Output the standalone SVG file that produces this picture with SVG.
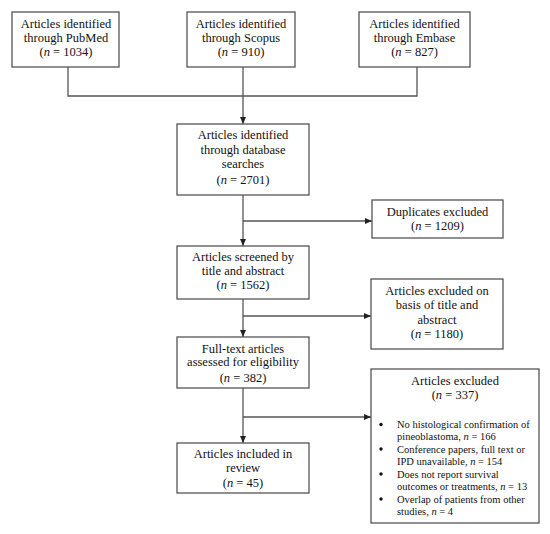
<svg xmlns="http://www.w3.org/2000/svg" width="550" height="534" viewBox="0 0 550 534">
<style>
.box{fill:#fff;stroke:#555;stroke-width:1.3}
.t{font-family:"Liberation Serif","Times New Roman",serif;font-size:12.5px;fill:#111;text-anchor:middle}
.s{font-family:"Liberation Serif","Times New Roman",serif;font-size:10.5px;fill:#111}
.b{fill:#111}
.c{fill:none;stroke:#555;stroke-width:1.3}
</style>
<defs>
<marker id="ah" markerWidth="8" markerHeight="8" refX="7" refY="4" orient="auto" markerUnits="userSpaceOnUse">
<path d="M0,1 L7,4 L0,7 Z" fill="#222"/>
</marker>
</defs>
<rect width="550" height="534" fill="#fff"/>
<g id="connectors">
<path class="c" d="M68,67 V96 H417 V67"/>
<path class="c" d="M243,67 V124" marker-end="url(#ah)"/>
<path class="c" d="M243,195 V246" marker-end="url(#ah)"/>
<path class="c" d="M243,221 H372" marker-end="url(#ah)"/>
<path class="c" d="M243,299 V337" marker-end="url(#ah)"/>
<path class="c" d="M243,316 H371" marker-end="url(#ah)"/>
<path class="c" d="M243,388 V443" marker-end="url(#ah)"/>
<path class="c" d="M243,417 H371" marker-end="url(#ah)"/>
</g>
<g id="pubmed">
<rect class="box" x="12" y="12" width="107" height="55"/>
<text class="t" x="66" y="28">Articles identified</text>
<text class="t" x="66" y="42">through PubMed</text>
<text class="t" x="66" y="56">(<tspan font-style="italic">n</tspan> = 1034)</text>
</g>
<g id="scopus">
<rect class="box" x="187" y="12" width="108" height="55"/>
<text class="t" x="241" y="28">Articles identified</text>
<text class="t" x="241" y="42">through Scopus</text>
<text class="t" x="241" y="56">(<tspan font-style="italic">n</tspan> = 910)</text>
</g>
<g id="embase">
<rect class="box" x="359" y="12" width="111" height="55"/>
<text class="t" x="414.5" y="28">Articles identified</text>
<text class="t" x="414.5" y="42">through Embase</text>
<text class="t" x="414.5" y="56">(<tspan font-style="italic">n</tspan> = 827)</text>
</g>
<g id="database">
<rect class="box" x="177" y="124" width="132" height="71"/>
<text class="t" x="243" y="139">Articles identified</text>
<text class="t" x="243" y="153.5">through database</text>
<text class="t" x="243" y="168">searches</text>
<text class="t" x="243" y="184">(<tspan font-style="italic">n</tspan> = 2701)</text>
</g>
<g id="duplicates">
<rect class="box" x="372" y="200" width="131" height="38"/>
<text class="t" x="437.5" y="216">Duplicates excluded</text>
<text class="t" x="437.5" y="230">(<tspan font-style="italic">n</tspan> = 1209)</text>
</g>
<g id="screened">
<rect class="box" x="177" y="246" width="132" height="53"/>
<text class="t" x="243" y="261">Articles screened by</text>
<text class="t" x="243" y="275">title and abstract</text>
<text class="t" x="243" y="289">(<tspan font-style="italic">n</tspan> = 1562)</text>
</g>
<g id="excluded-title">
<rect class="box" x="371" y="279" width="132" height="70"/>
<text class="t" x="437" y="295">Articles excluded on</text>
<text class="t" x="437" y="309">basis of title and</text>
<text class="t" x="437" y="323.5">abstract</text>
<text class="t" x="437" y="337.5">(<tspan font-style="italic">n</tspan> = 1180)</text>
</g>
<g id="fulltext">
<rect class="box" x="177" y="337" width="132" height="51"/>
<text class="t" x="243" y="352.5">Full-text articles</text>
<text class="t" x="243" y="366">assessed for eligibility</text>
<text class="t" x="243" y="381.5">(<tspan font-style="italic">n</tspan> = 382)</text>
</g>
<g id="excluded">
<rect class="box" x="371" y="369" width="168" height="154"/>
<text class="t" x="455" y="385">Articles excluded</text>
<text class="t" x="455" y="399">(<tspan font-style="italic">n</tspan> = 337)</text>
<circle class="b" cx="381" cy="424.5" r="1.7"/>
<circle class="b" cx="381" cy="449" r="1.7"/>
<circle class="b" cx="381" cy="474" r="1.7"/>
<circle class="b" cx="381" cy="499" r="1.7"/>
<text class="s" x="397" y="427.5">No histological confirmation of</text>
<text class="s" x="397" y="440">pineoblastoma, <tspan font-style="italic">n</tspan> = 166</text>
<text class="s" x="397" y="452.5">Conference papers, full text or</text>
<text class="s" x="397" y="465">IPD unavailable, <tspan font-style="italic">n</tspan> = 154</text>
<text class="s" x="397" y="477.5">Does not report survival</text>
<text class="s" x="397" y="490">outcomes or treatments, <tspan font-style="italic">n</tspan> = 13</text>
<text class="s" x="397" y="502.5">Overlap of patients from other</text>
<text class="s" x="397" y="515">studies, <tspan font-style="italic">n</tspan> = 4</text>
</g>
<g id="included">
<rect class="box" x="177" y="443" width="132" height="50"/>
<text class="t" x="243" y="458">Articles included in</text>
<text class="t" x="243" y="472">review</text>
<text class="t" x="243" y="486.5">(<tspan font-style="italic">n</tspan> = 45)</text>
</g>
</svg>
